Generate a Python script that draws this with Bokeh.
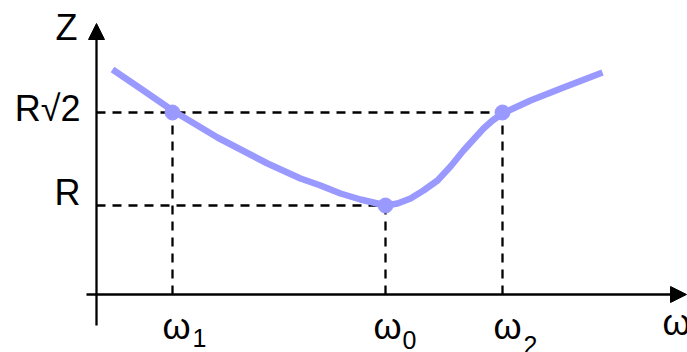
from bokeh.plotting import figure
from bokeh.models import Range1d, Arrow, NormalHead
from bokeh.core.properties import value
from bokeh.embed import file_html
from bokeh.resources import INLINE

# impedance curve Z(omega), arbitrary units (origin at axes crossing)
curve_w = [16, 44, 76, 121, 171, 204, 224, 244, 264, 281, 289, 301, 314, 327, 341,
           354, 367, 377, 387, 396, 406, 434, 467, 506]
curve_z = [225, 206, 184, 157, 131, 116, 109, 101, 95, 91, 89, 91, 96, 104, 114,
           128, 144, 155, 166, 174, 181, 194, 207, 222]

# marked frequencies and levels
w1, w0, w2 = 76, 289, 406
R = 89
R_sqrt2 = 182
mark_w = [w1, w0, w2]
mark_z = [R_sqrt2, R, R_sqrt2]

FONT = value("Liberation Sans")

p = figure(width=687, height=352, output_backend="svg", toolbar_location=None,
           x_range=Range1d(-96, 591), y_range=Range1d(-58, 294),
           min_border=0, outline_line_color=None)
p.axis.visible = False
p.grid.visible = False
p.background_fill_color = "white"

# dashed guides
dash = "9 7"
lw = 2.3
p.line([0, w2], [R_sqrt2, R_sqrt2], line_color="black", line_width=lw, line_dash=dash)
p.line([0, w0], [R, R], line_color="black", line_width=lw, line_dash=dash)
p.line([w1, w1], [0, R_sqrt2], line_color="black", line_width=lw, line_dash=dash)
p.line([w0, w0], [0, R], line_color="black", line_width=lw, line_dash=dash)
p.line([w2, w2], [0, R_sqrt2], line_color="black", line_width=lw, line_dash=dash)

# axes with arrows
p.add_layout(Arrow(end=NormalHead(size=16, fill_color="black", line_color="black"),
                   x_start=0, y_start=-31, x_end=0, y_end=271,
                   line_color="black", line_width=2.3))
p.add_layout(Arrow(end=NormalHead(size=16, fill_color="black", line_color="black"),
                   x_start=-10, y_start=0, x_end=590, y_end=0,
                   line_color="black", line_width=2.3))

# curve and points
p.line(curve_w, curve_z, line_color="#9999ff", line_width=6.5, line_join="round", line_cap="butt")
p.scatter(mark_w, mark_z, size=15, fill_color="#9999ff", line_color="#9999ff")

# labels
big = "36px"
small = "25px"
p.text(x=[-41], y=[267], text=["Z"], text_font=FONT, text_font_size=big,
       text_baseline="alphabetic", text_align="left", text_color="black")
p.text(x=[-16, -16], y=[186, 102], text=["R\u221a2", "R"], text_font=FONT, text_font_size=big,
       text_baseline="alphabetic", text_align="right", text_color="black")
p.text(x=[w1 - 10, w0 - 12, w2 - 9, 566], y=[-32, -32, -32, -28],
       text=["\u03c9", "\u03c9", "\u03c9", "\u03c9"], text_font=FONT, text_font_size=big,
       text_baseline="alphabetic", text_align="left", text_color="black")
p.text(x=[w1 + 20, w0 + 17, w2 + 21], y=[-43, -45, -50], text=["1", "0", "2"],
       text_font=FONT, text_font_size=small,
       text_baseline="alphabetic", text_align="left", text_color="black")

open("out.html", "w").write(file_html(p, INLINE))
